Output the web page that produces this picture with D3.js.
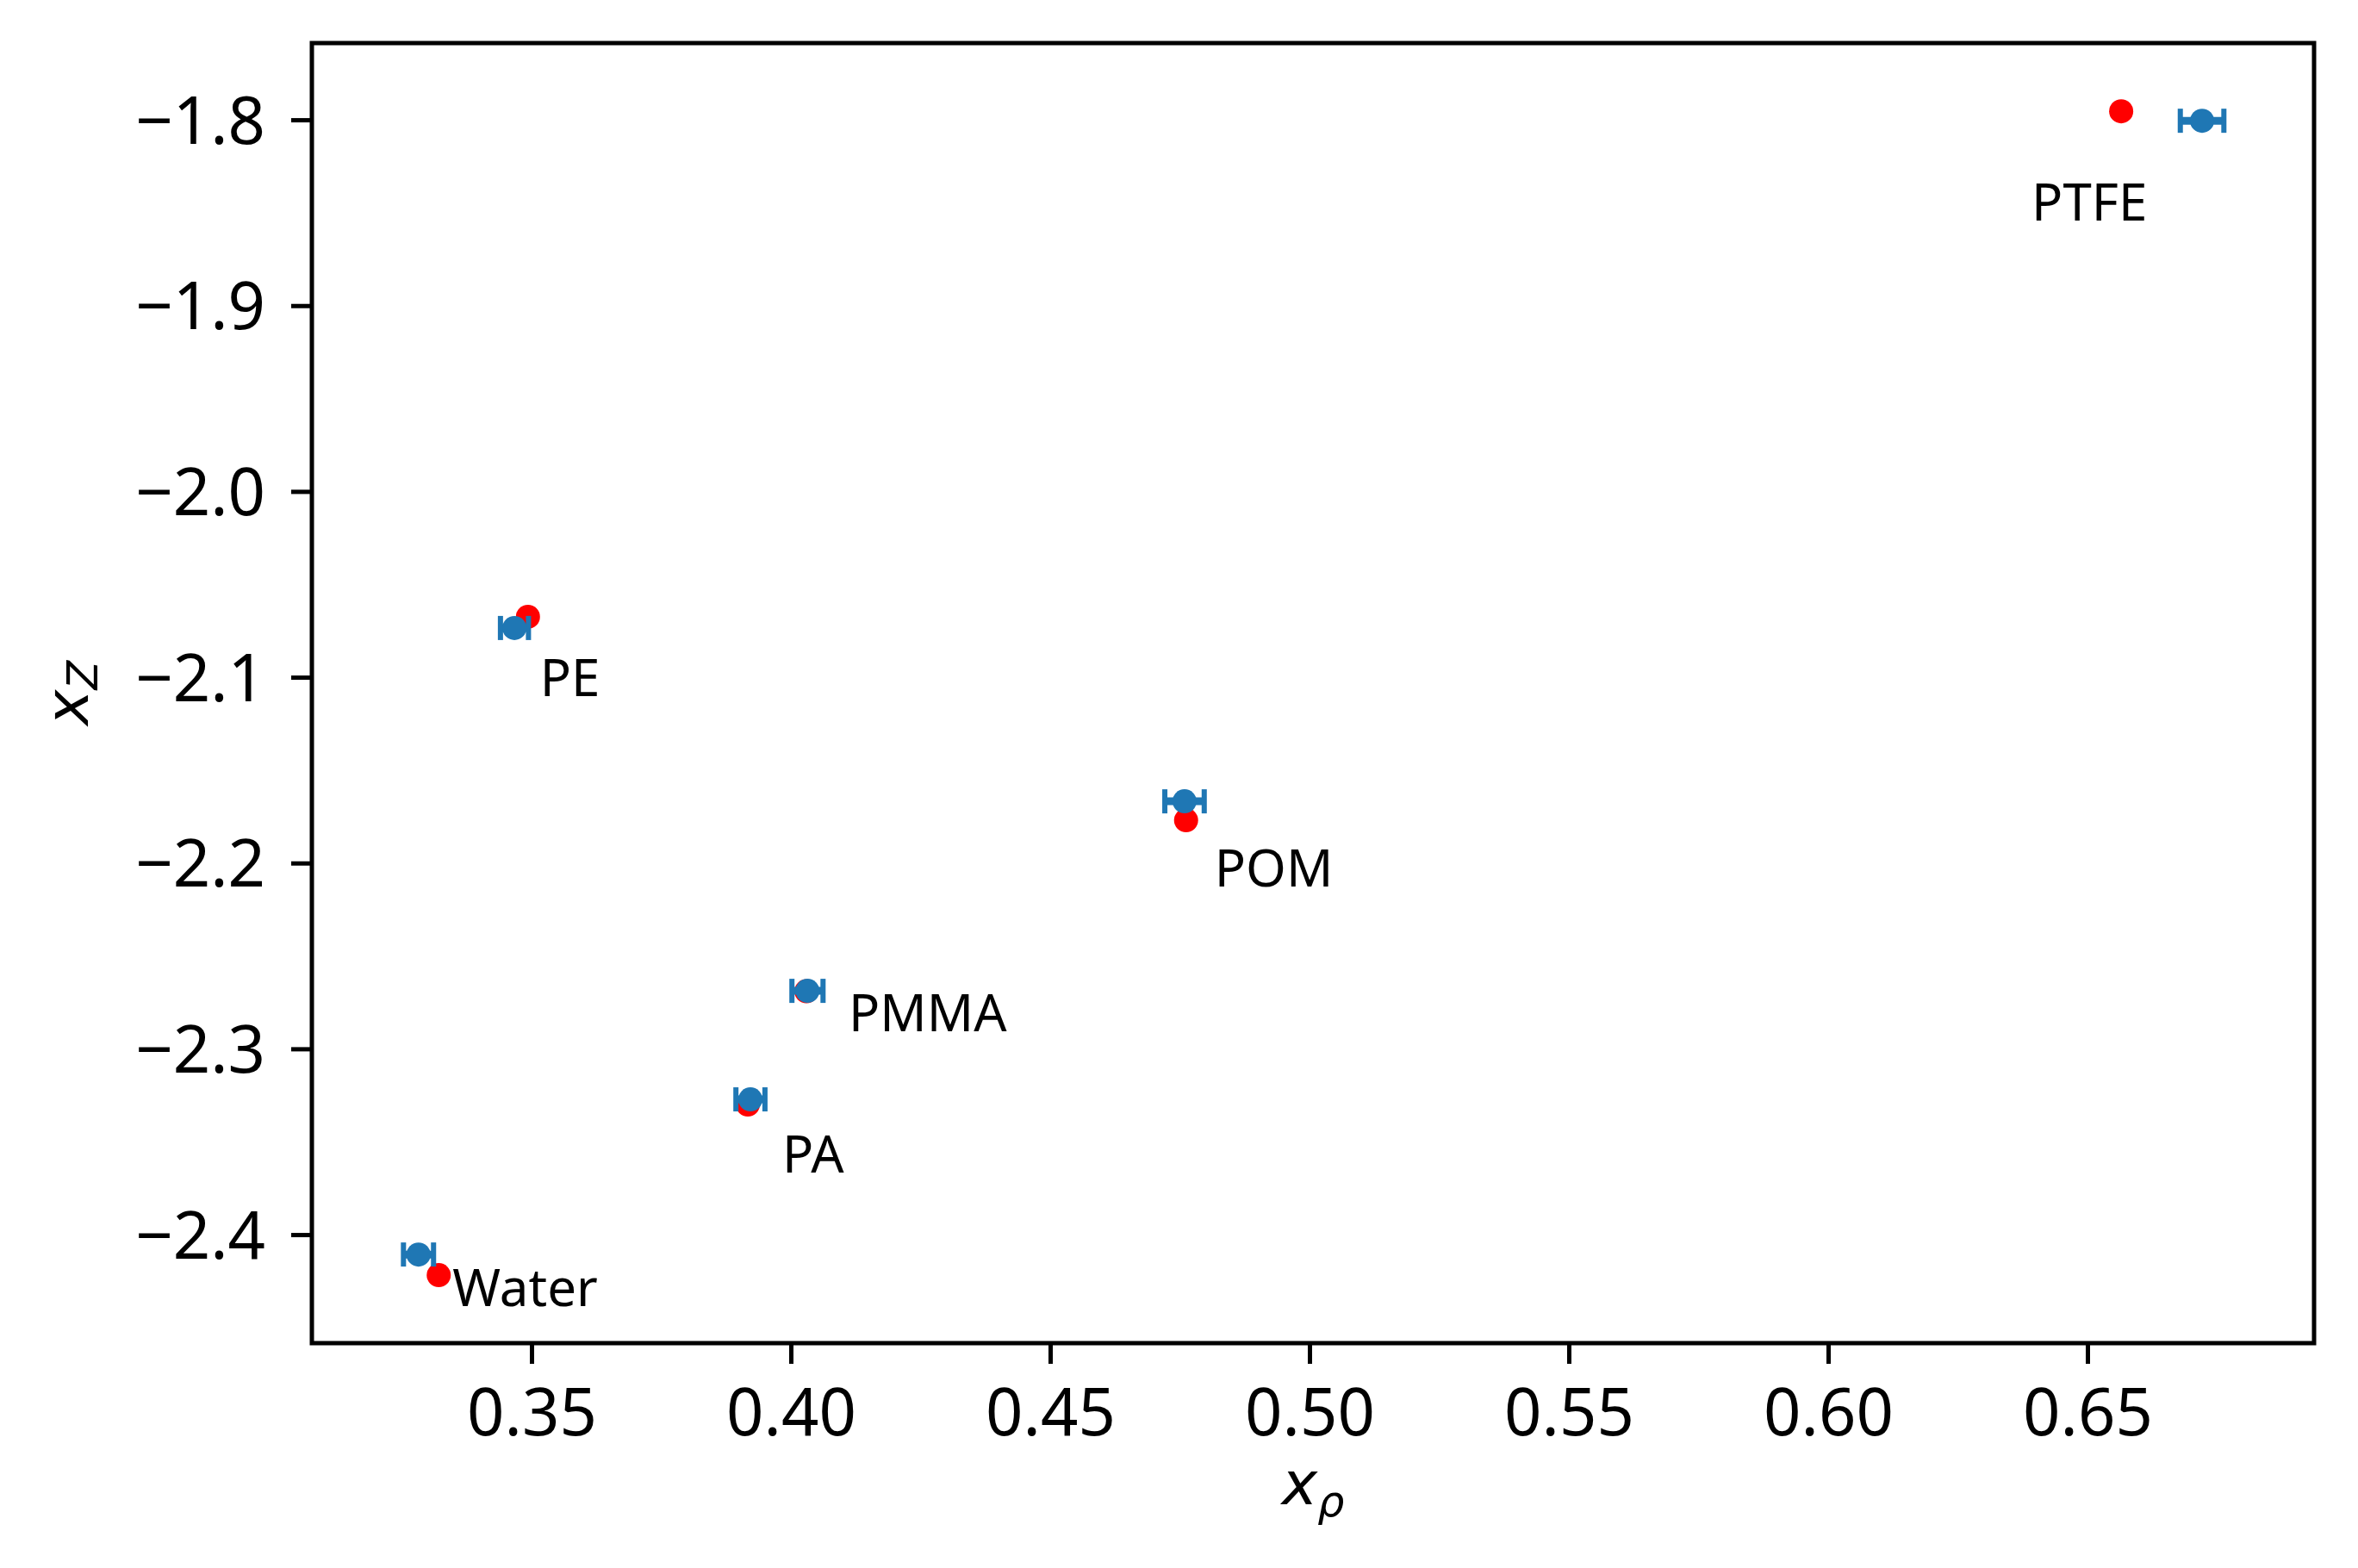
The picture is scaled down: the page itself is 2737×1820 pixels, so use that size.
<!DOCTYPE html>
<html>
<head>
<meta charset="utf-8">
<script src="https://cdn.jsdelivr.net/npm/d3@7"></script>
<style>
  body { margin: 0; background: #fff; }
  text { font-family: "Noto Sans", sans-serif; fill: #000; }
</style>
</head>
<body>
<svg id="chart" width="2737" height="1820"></svg>
<script>
// Reference (red) and measured (blue, with x error) positions per material.
const materials = ["PTFE", "PE", "Water", "POM", "PMMA", "PA"];
const refX = [0.6565, 0.3493, 0.3321, 0.4762, 0.4030, 0.3917];
const refZ = [-1.7954, -2.0675, -2.4218, -2.1770, -2.2690, -2.3300];
const measX = [0.6721, 0.3467, 0.3282, 0.4759, 0.4032, 0.3922];
const measZ = [-1.8005, -2.0735, -2.4107, -2.1668, -2.2688, -2.3272];
const measXErr = [0.0042, 0.0027, 0.0029, 0.0038, 0.0030, 0.0028];
const xTicks = [0.35, 0.40, 0.45, 0.50, 0.55, 0.60, 0.65];
const yTicks = [-1.8, -1.9, -2.0, -2.1, -2.2, -2.3, -2.4];

// where each name sits relative to its red marker, in px
const labelOffset = {
  PTFE: [-104, 127], PE: [14, 92], Water: [16, 36],
  POM: [33, 77], PMMA: [49, 46], PA: [40, 79],
};

const RED = "#ff0000";
const BLUE = "#1f77b4";
const margin = { left: 362, right: 2737 - 2686, top: 50, bottom: 1820 - 1559 };
const width = 2737, height = 1820;

const svg = d3.select("#chart");
const x = d3.scaleLinear().domain([0.30764, 0.69369]).range([margin.left, width - margin.right]);
const y = d3.scaleLinear().domain([-2.4584, -1.7587]).range([height - margin.bottom, margin.top]);

// axes
const xAxis = svg.append("g")
  .attr("transform", `translate(0,${height - margin.bottom})`)
  .call(d3.axisBottom(x).tickValues(xTicks).tickFormat(d3.format(".2f")).tickSize(24).tickSizeOuter(0));
xAxis.selectAll("text").attr("y", 107).attr("dy", null).style("font-size", "76px");

const yAxis = svg.append("g")
  .attr("transform", `translate(${margin.left},0)`)
  .call(d3.axisLeft(y).tickValues(yTicks).tickFormat(d3.format(".1f")).tickSize(24).tickSizeOuter(0));
yAxis.selectAll("text").attr("x", -54).attr("dy", 27).style("font-size", "76px");

[xAxis, yAxis].forEach((g) => {
  g.select(".domain").remove();
  g.selectAll(".tick line").attr("stroke", "#000").attr("stroke-width", 5);
});

// frame
svg.append("rect")
  .attr("x", margin.left).attr("y", margin.top)
  .attr("width", width - margin.left - margin.right)
  .attr("height", height - margin.top - margin.bottom)
  .attr("fill", "none").attr("stroke", "#000").attr("stroke-width", 5);

const rows = materials.map((name, i) => ({
  name, rx: refX[i], rz: refZ[i], mx: measX[i], mz: measZ[i], err: measXErr[i],
}));

// red reference points
svg.append("g").selectAll("circle").data(rows).join("circle")
  .attr("cx", (d) => x(d.rx)).attr("cy", (d) => y(d.rz))
  .attr("r", 14).attr("fill", RED);

// blue measured points with horizontal error bars
const eb = svg.append("g").selectAll("g").data(rows).join("g").attr("fill", BLUE).attr("stroke", BLUE);
eb.append("line")
  .attr("x1", (d) => x(d.mx - d.err)).attr("x2", (d) => x(d.mx + d.err))
  .attr("y1", (d) => y(d.mz)).attr("y2", (d) => y(d.mz))
  .attr("stroke-width", 9);
[-1, 1].forEach((s) => {
  eb.append("line")
    .attr("x1", (d) => x(d.mx + s * d.err)).attr("x2", (d) => x(d.mx + s * d.err))
    .attr("y1", (d) => y(d.mz) - 14).attr("y2", (d) => y(d.mz) + 14)
    .attr("stroke-width", 6);
});
eb.append("circle")
  .attr("cx", (d) => x(d.mx)).attr("cy", (d) => y(d.mz))
  .attr("r", 14).attr("stroke", "none");

// material names
svg.append("g").selectAll("text").data(rows).join("text")
  .attr("x", (d) => x(d.rx) + labelOffset[d.name][0])
  .attr("y", (d) => y(d.rz) + labelOffset[d.name][1])
  .style("font-size", "60px")
  .text((d) => d.name);

// axis titles (math-style italic with subscripts)
const xt = svg.append("text")
  .attr("x", (margin.left + width - margin.right) / 2).attr("y", 1746)
  .attr("text-anchor", "middle")
  .style("font-family", "DejaVu Sans").style("font-style", "italic").style("font-size", "70px");
xt.append("tspan").text("x");
xt.append("tspan").attr("dy", 14).style("font-size", "49px").text("ρ");

const yt = svg.append("text")
  .attr("transform", `translate(102,${(margin.top + height - margin.bottom) / 2}) rotate(-90)`)
  .attr("text-anchor", "middle")
  .style("font-family", "DejaVu Sans").style("font-style", "italic").style("font-size", "70px");
yt.append("tspan").text("x");
yt.append("tspan").attr("dy", 11).style("font-size", "49px").text("Z");
</script>
</body>
</html>
